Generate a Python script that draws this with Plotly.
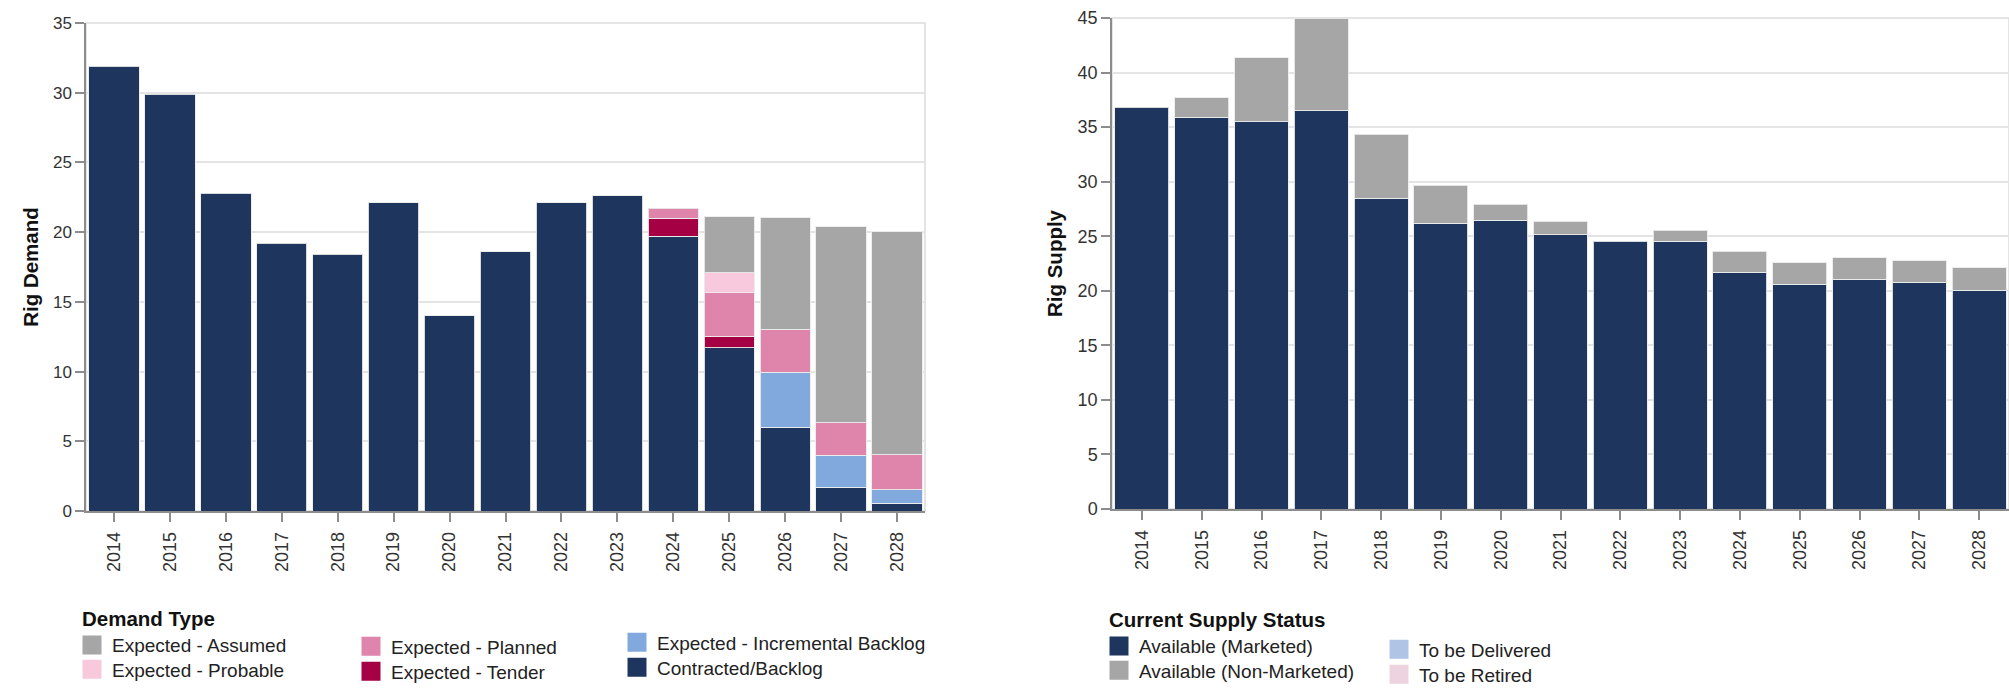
import plotly.graph_objects as go

W, H = 2009, 696

years = ['2014', '2015', '2016', '2017', '2018', '2019', '2020', '2021',
         '2022', '2023', '2024', '2025', '2026', '2027', '2028']

# ---- Rig Demand by demand type (stack order bottom -> top) ----
contracted_backlog = [31.9, 29.9, 22.8, 19.2, 18.4, 22.1, 14.0, 18.6,
                      22.1, 22.6, 19.7, 11.7, 6.0, 1.7, 0.55]
incremental_backlog = [None, None, None, None, None, None, None, None,
                       None, None, None, None, 3.95, 2.3, 0.97]
tender = [None, None, None, None, None, None, None, None,
          None, None, 1.3, 0.85, None, None, None]
planned = [None, None, None, None, None, None, None, None,
           None, None, 0.7, 3.1, 3.1, 2.32, 2.5]
probable = [None, None, None, None, None, None, None, None,
            None, None, None, 1.45, None, None, None]
assumed = [None, None, None, None, None, None, None, None,
           None, None, None, 4.0, 8.0, 14.05, 16.0]

# ---- Rig Supply by current supply status ----
available_marketed = [36.8, 35.9, 35.5, 36.5, 28.5, 26.2, 26.45, 25.15,
                      24.55, 24.55, 21.7, 20.6, 21.05, 20.8, 20.05]
available_non_marketed = [None, 1.8, 5.85, 8.5, 5.85, 3.45, 1.5, 1.2,
                          None, 1.0, 1.93, 1.97, 2.0, 1.93, 2.05]
to_be_delivered = [None] * 15
to_be_retired = [None] * 15

demand_series = [
    ('Contracted/Backlog', contracted_backlog, '#1e365e'),
    ('Expected - Incremental Backlog', incremental_backlog, '#82a9de'),
    ('Expected - Tender', tender, '#a50044'),
    ('Expected - Planned', planned, '#df84aa'),
    ('Expected - Probable', probable, '#f8c9dd'),
    ('Expected - Assumed', assumed, '#a6a6a6'),
]
supply_series = [
    ('Available (Marketed)', available_marketed, '#1e365e'),
    ('Available (Non-Marketed)', available_non_marketed, '#a6a6a6'),
    ('To be Delivered', to_be_delivered, '#b0c4e6'),
    ('To be Retired', to_be_retired, '#ecd3df'),
]
colors = {n: c for n, _, c in demand_series + supply_series}

FONT = 'Liberation Sans, Arial, Helvetica, sans-serif'
TXT = '#222222'

# legend grid: (name, left x px, item centre y px, legend title or None)
legend_items = [
    ('Expected - Assumed', 80, 643.5, 'Demand Type'),
    ('Expected - Probable', 72, 668.5, None),
    ('Expected - Planned', 351, 645.5, None),
    ('Expected - Tender', 351, 670.5, None),
    ('Expected - Incremental Backlog', 617, 641.5, None),
    ('Contracted/Backlog', 617, 666.5, None),
    ('Available (Marketed)', 1107, 644.5, 'Current Supply Status'),
    ('Available (Non-Marketed)', 1099, 669.5, None),
    ('To be Delivered', 1379, 648.5, None),
    ('To be Retired', 1379, 673.5, None),
]

fig = go.Figure()

bar_line = dict(width=1, color='rgba(235,235,235,0.9)')
for name, vals, col in demand_series:
    fig.add_trace(go.Bar(x=years, y=vals, name=name, marker_color=col,
                         marker_line=bar_line, xaxis='x', yaxis='y',
                         showlegend=False))
for name, vals, col in supply_series:
    fig.add_trace(go.Bar(x=years, y=vals, name=name, marker_color=col,
                         marker_line=bar_line, xaxis='x2', yaxis='y2',
                         showlegend=False))

leg_font = dict(family=FONT, size=19, color=TXT)
title_font = dict(family=FONT, size=20.5, color='#111111')

legend_layout = {}
for i, (nm, xpx, ycen, title) in enumerate(legend_items):
    lid = 'legend' if i == 0 else 'legend%d' % (i + 1)
    fig.add_trace(go.Scatter(
        x=[None], y=[None], mode='markers', name=nm, legend=lid,
        marker=dict(symbol='square', size=16, color=colors[nm],
                    line=dict(width=3, color=colors[nm])),
        showlegend=True, hoverinfo='skip'))
    top = ycen - (44 if title else 18)
    d = dict(x=xpx / W, y=1 - top / H, xanchor='left', yanchor='top',
             orientation='v', bgcolor='rgba(0,0,0,0)', borderwidth=0,
             font=leg_font, itemclick=False, itemdoubleclick=False,
             traceorder='normal')
    if title:
        d['title'] = dict(text='<b>' + title + '</b>', font=title_font,
                          side='top')
        d['indentation'] = -8
    legend_layout[lid] = d

# plot areas (pixels)
L1, R1, T1, B1 = 86, 925, 23, 511
L2, R2, T2, B2 = 1112, 2009, 18, 509


def axis_style(tsize):
    return dict(
        showline=True, linecolor='#8c8c8c', linewidth=1.5,
        ticks='outside', ticklen=9, tickwidth=1.5, tickcolor='#8c8c8c',
        tickfont=dict(family=FONT, size=tsize, color='#333333'),
        automargin=False,
    )


ytitle_font = dict(family=FONT, size=20.5, color='#111111')
fig.update_layout(
    width=W, height=H,
    margin=dict(l=0, r=0, t=0, b=0, autoexpand=False),
    paper_bgcolor='white', plot_bgcolor='white',
    barmode='stack', bargap=0.1,
    font=dict(family=FONT, color=TXT),
    xaxis=dict(domain=[L1 / W, R1 / W], anchor='y', type='category',
               tickangle=-90, showgrid=False, ticklabelstandoff=3,
               **axis_style(18)),
    yaxis=dict(domain=[1 - B1 / H, 1 - T1 / H], anchor='x', range=[0, 35],
               dtick=5, showgrid=True, gridcolor='#e4e4e4', gridwidth=2,
               zeroline=False,
               title=dict(text='<b>Rig Demand</b>', standoff=9,
                          font=ytitle_font),
               **axis_style(17)),
    xaxis2=dict(domain=[L2 / W, R2 / W], anchor='y2', type='category',
                tickangle=-90, showgrid=False, ticklabelstandoff=3,
                **axis_style(18)),
    yaxis2=dict(domain=[1 - B2 / H, 1 - T2 / H], anchor='x2', range=[0, 45],
                dtick=5, showgrid=True, gridcolor='#e4e4e4', gridwidth=2,
                zeroline=False,
                title=dict(text='<b>Rig Supply</b>', standoff=9,
                           font=ytitle_font),
                **axis_style(18)),
    **legend_layout,
)

# light view frames
for xr, yr in (('x domain', 'y domain'), ('x2 domain', 'y2 domain')):
    fig.add_shape(type='rect', xref=xr, yref=yr, x0=0, x1=1, y0=0, y1=1,
                  line=dict(color='#dcdcdc', width=1.5), layer='below')

fig.write_html('out.html', config={'displayModeBar': False},
               post_script="document.body.style.margin='0';"
                           "document.body.style.overflow='hidden';")
